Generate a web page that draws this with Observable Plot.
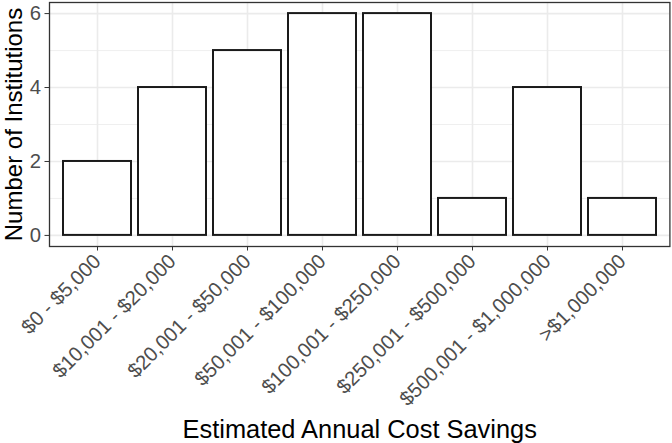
<!DOCTYPE html>
<html>
<head>
<meta charset="utf-8">
<script src="https://cdn.jsdelivr.net/npm/d3@7"></script>
<script src="https://cdn.jsdelivr.net/npm/@observablehq/plot@0.6"></script>
<style>
  html, body { margin: 0; padding: 0; background: #fff; }
  svg { display: block; }
</style>
</head>
<body>
<div id="chart"></div>
<script>
const categories = [
  "$0 - $5,000",
  "$10,001 - $20,000",
  "$20,001 - $50,000",
  "$50,001 - $100,000",
  "$100,001 - $250,000",
  "$250,001 - $500,000",
  "$500,001 - $1,000,000",
  ">$1,000,000"
];
const counts = [2, 4, 5, 6, 6, 1, 4, 1];
const yMajor = [0, 2, 4, 6];
const yMinor = [1, 3, 5];
const xTitle = "Estimated Annual Cost Savings";
const yTitle = "Number of Institutions";

const data = categories.map((c, i) => ({category: c, count: counts[i]}));

const font = "'Liberation Sans', Arial, Helvetica, sans-serif";
const W = 672, H = 443;
const mL = 49, mR = 2.6, mT = 2, mB = 197;

const chart = Plot.plot({
  width: W,
  height: H,
  marginLeft: mL,
  marginRight: mR,
  marginTop: mT,
  marginBottom: mB,
  style: {fontFamily: font, background: "#fff", overflow: "visible"},
  x: {type: "band", domain: categories, paddingInner: 0.1, paddingOuter: 0.15, label: null},
  y: {domain: [-0.3, 6.3], label: null},
  marks: [
    Plot.gridY(yMinor, {stroke: "#ebebeb", strokeOpacity: 1, strokeWidth: 0.8}),
    Plot.gridY(yMajor, {stroke: "#ebebeb", strokeOpacity: 1, strokeWidth: 1.6}),
    Plot.gridX({stroke: "#ebebeb", strokeOpacity: 1, strokeWidth: 1.6}),
    Plot.barY(data, {x: "category", y: "count", fill: "white", stroke: "#1a1a1a", strokeWidth: 2}),
    Plot.frame({stroke: "#333333", strokeWidth: 1.3}),
    Plot.axisY(yMajor, {tickSize: 4.5, tickPadding: 4, fontSize: 20.3, color: "#4d4d4d", stroke: "#333333", label: null}),
    Plot.axisX({tickSize: 4.5, tickPadding: 7, tickRotate: -45, fontSize: 20.3, color: "#4d4d4d", stroke: "#333333", label: null}),
    Plot.text([yTitle], {frameAnchor: "left", dx: 21 - mL, rotate: -90, textAnchor: "middle", lineAnchor: "bottom", fontSize: 24, fill: "#000"}),
    Plot.text([xTitle], {frameAnchor: "bottom", dy: 191, textAnchor: "middle", lineAnchor: "bottom", fontSize: 25.4, fill: "#000"})
  ]
});
document.getElementById("chart").appendChild(chart);
</script>
</body>
</html>
